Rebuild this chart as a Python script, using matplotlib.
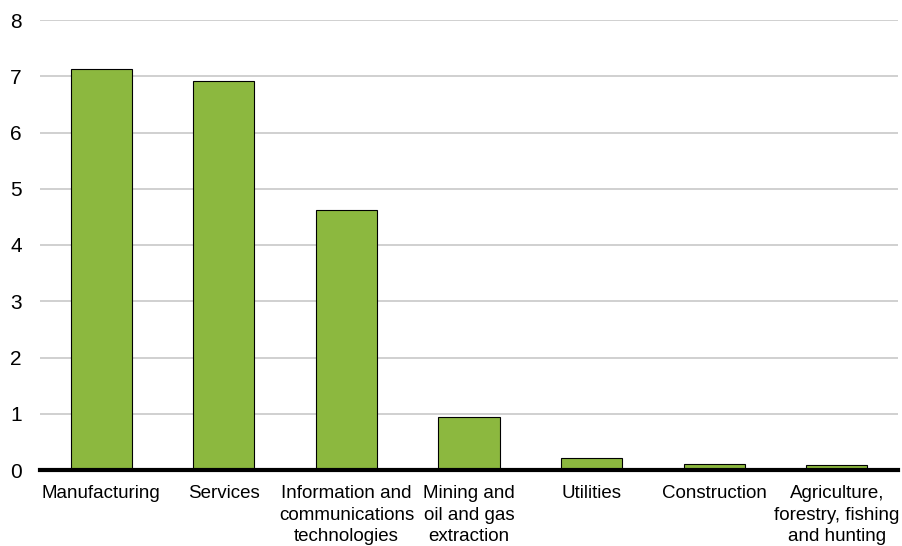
import matplotlib
matplotlib.use("Agg")
import matplotlib.pyplot as plt

# Datos
sectors = ['Manufacturing', 'Services', 'Information and\ncommunications\ntechnologies',
           'Mining and\noil and gas\nextraction', 'Utilities', 'Construction',
           'Agriculture,\nforestry, fishing\nand hunting']
values = [7.13, 6.92, 4.62, 0.94, 0.21, 0.10, 0.09]
y_ticks = [0, 1, 2, 3, 4, 5, 6, 7, 8]

plt.rcParams['font.family'] = ['Liberation Sans', 'DejaVu Sans']

fig = plt.figure(figsize=(9.02, 5.46), dpi=100)
ax = fig.add_axes([40 / 902, 1 - 470 / 546, 858 / 902, 450 / 546])

x = range(len(sectors))
ax.bar(x, values, width=0.5, color='#8cb83f', edgecolor='black', linewidth=0.8, zorder=3)

ax.set_xlim(-0.5, len(sectors) - 0.5)
ax.set_ylim(0, 8)
ax.set_yticks(y_ticks)
ax.set_yticklabels([str(t) for t in y_ticks], fontsize=15)
ax.set_xticks(list(x))
ax.set_xticklabels(sectors, fontsize=13.5, linespacing=1.33)

ax.yaxis.grid(True, color='#c8c8c8', linewidth=1.2, zorder=0)
for s in ['top', 'right', 'left']:
    ax.spines[s].set_visible(False)
ax.spines['bottom'].set_linewidth(3)
ax.spines['bottom'].set_zorder(4)
ax.tick_params(axis='both', length=0)
ax.tick_params(axis='y', pad=13)
ax.tick_params(axis='x', pad=11)

fig.savefig('out.png', dpi=100)
